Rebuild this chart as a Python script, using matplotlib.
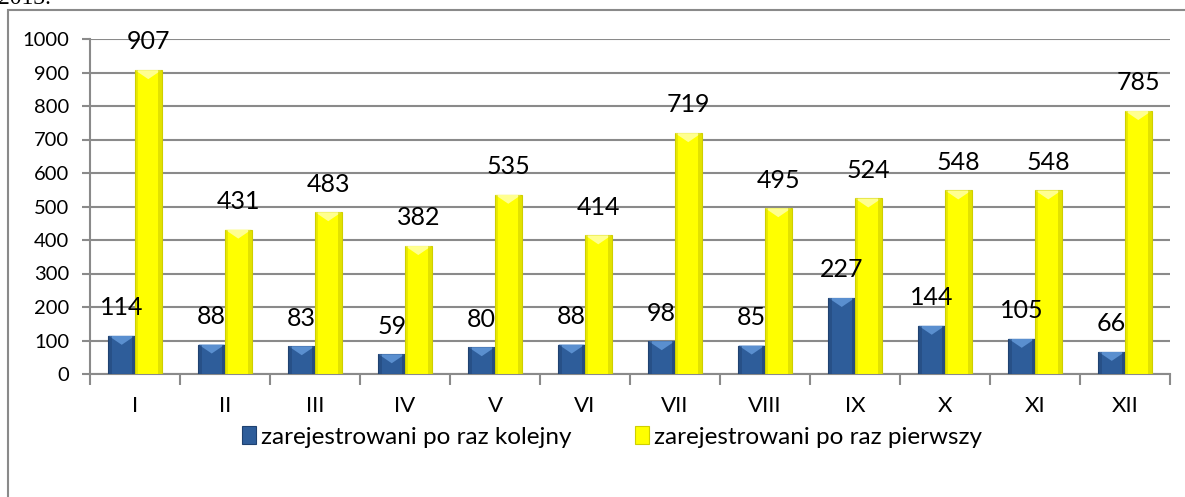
import matplotlib
matplotlib.use("Agg")
import matplotlib.pyplot as plt
from matplotlib.patches import Rectangle, Polygon
import numpy as np

months = ["I", "II", "III", "IV", "V", "VI", "VII", "VIII", "IX", "X", "XI", "XII"]
kolejny = [114, 88, 83, 59, 80, 88, 98, 85, 227, 144, 105, 66]
pierwszy = [907, 431, 483, 382, 535, 414, 719, 495, 524, 548, 548, 785]
series_names = ["zarejestrowani po raz kolejny", "zarejestrowani po raz pierwszy"]
yticks = [0, 100, 200, 300, 400, 500, 600, 700, 800, 900, 1000]

plt.rcParams['font.family'] = ['Lato', 'DejaVu Sans']

W, H = 1185, 497
fig = plt.figure(figsize=(W / 100, H / 100), dpi=100)
ax = fig.add_axes([90 / W, 1 - 374 / H, (1170 - 90) / W, (374 - 39) / H])

# outer border & cut title
fig.patches.append(Rectangle((8 / W, -0.2), 1.5, 1.2 - 10 / H, transform=fig.transFigure,
                             fill=False, edgecolor="#8a8a8a", linewidth=1.5))
fig.text(-2 / W, 1 - 4 / H, "2013.", family=["Liberation Serif"], fontsize=17,
         va="baseline", ha="left", color="black")

x = np.arange(len(months))
bw = 0.295
blue_main, blue_edge, blue_top = "#2E5D9A", "#1F4170", "#5A8FCF"
yel_main, yel_edge, yel_top = "#FFFF00", "#CFCF00", "#FFFF90"

b1 = ax.bar(x - bw / 2, kolejny, bw, color=blue_main, edgecolor=blue_edge, linewidth=0.8,
            label=series_names[0], zorder=3)
b2 = ax.bar(x + bw / 2, pierwszy, bw, color=yel_main, edgecolor=yel_edge, linewidth=0.8,
            label=series_names[1], zorder=3)

ax.set_xlim(-0.5, len(months) - 0.5)
ax.set_ylim(0, 1000)

# bevel decoration derived from bar geometry
px_y = 1000 / 335.0  # data units per pixel vertically
for bars, side, top in ((b1, blue_edge, blue_top), (b2, yel_edge, yel_top)):
    for p in bars:
        x0, w, h = p.get_x(), p.get_width(), p.get_height()
        d = min(9 * px_y, h / 2)
        sw = w * 0.12
        ax.add_patch(Polygon([(x0, h), (x0 + w, h), (x0 + w / 2, h - d)], closed=True,
                             facecolor=top, edgecolor="none", zorder=4))
        ax.add_patch(Rectangle((x0, 0), sw, h, facecolor=side, edgecolor="none", alpha=0.45, zorder=4))
        ax.add_patch(Rectangle((x0 + w - sw, 0), sw, h, facecolor=side, edgecolor="none", alpha=0.6, zorder=4))

for bars, vals in ((b1, kolejny), (b2, pierwszy)):
    for p, v in zip(bars, vals):
        ax.annotate(str(v), (p.get_x() + p.get_width() / 2, v), xytext=(0, 12),
                    textcoords="offset points", ha="center", va="bottom", fontsize=18, zorder=5)

ax.set_yticks(yticks)
ax.set_yticklabels([str(t) for t in yticks], fontsize=14.5)
ax.set_xticks(x)
ax.set_xticklabels(months, fontsize=16)
ax.set_xticks(np.arange(-0.5, len(months), 1), minor=True)
ax.tick_params(axis="x", which="major", length=0, pad=16)
ax.tick_params(axis="x", which="minor", length=8, width=1.5, color="#8a8a8a")
ax.tick_params(axis="y", length=6, width=1.5, color="#8a8a8a", pad=9)

ax.grid(axis="y", color="#8a8a8a", linewidth=1.5, zorder=0)
ax.set_axisbelow(True)
for s in ("top", "right"):
    ax.spines[s].set_visible(False)
for s in ("left", "bottom"):
    ax.spines[s].set_color("#8a8a8a")
    ax.spines[s].set_linewidth(1.5)

leg = fig.legend(handles=[b1, b2], labels=series_names, loc="center",
                 bbox_to_anchor=(612 / W, 1 - 437 / H), ncol=2, frameon=False,
                 fontsize=17.5, handlelength=0.6, handleheight=0.7, handletextpad=0.2,
                 columnspacing=2.6)

fig.savefig("out.png", dpi=100)
